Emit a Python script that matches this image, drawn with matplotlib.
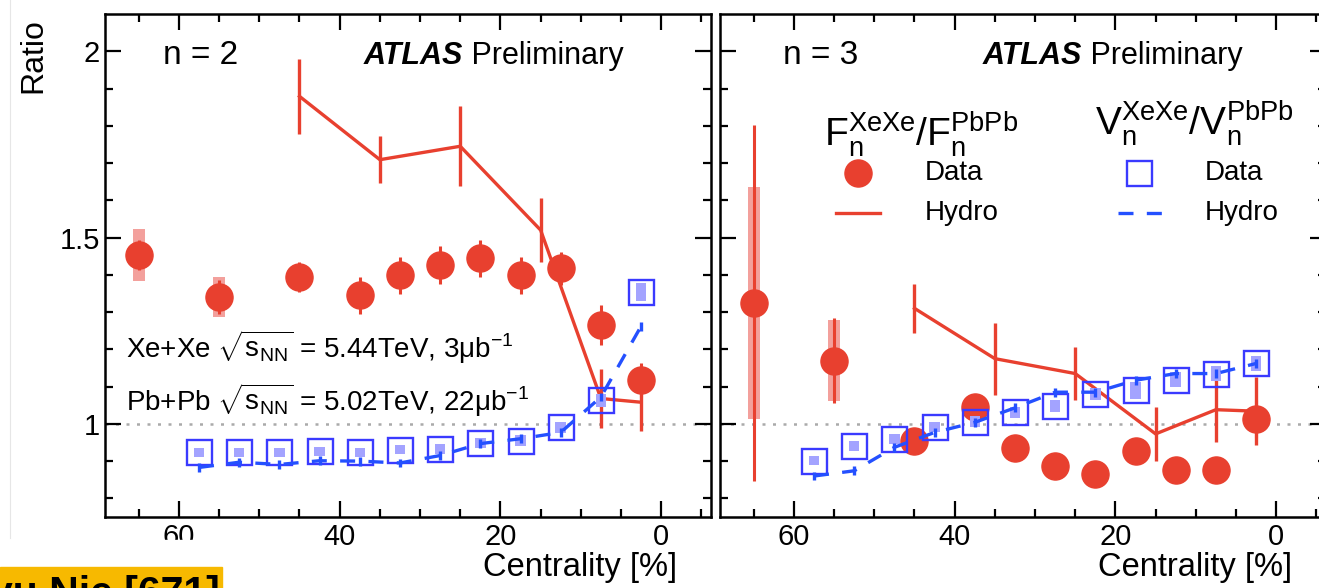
import numpy as np
import matplotlib
matplotlib.use("Agg")
import matplotlib.pyplot as plt
from matplotlib.patches import Rectangle
from matplotlib.lines import Line2D

plt.rcParams["font.family"] = ["Liberation Sans", "DejaVu Sans"]
plt.rcParams["mathtext.fontset"] = "custom"
plt.rcParams["mathtext.rm"] = "Liberation Sans"
plt.rcParams["mathtext.it"] = "Liberation Sans:italic"
plt.rcParams["mathtext.bf"] = "Liberation Sans:bold"

# ---- data ---------------------------------------------------------------
# F_n ratio (data), centrality bin centres
cent_F = [65, 55, 45, 37.5, 32.5, 27.5, 22.5, 17.5, 12.5, 7.5, 2.5]
n2_F = [1.453, 1.341, 1.395, 1.345, 1.399, 1.426, 1.444, 1.399, 1.417, 1.265, 1.117]
n2_F_stat = [0.04, 0.045, 0.04, 0.05, 0.05, 0.05, 0.05, 0.05, 0.045, 0.054, 0.045]
n2_F_sys = [0.07, 0.053, 0.02, 0.02, 0.02, 0.02, 0.02, 0.02, 0.02, 0.02, 0.02]
n3_F = [1.325, 1.170, 0.955, 1.045, 0.934, 0.888, 0.865, 0.928, 0.876, 0.876, 1.013]
n3_F_stat = [0.478, 0.115, 0.035, 0.03, 0.02, 0.02, 0.02, 0.02, 0.02, 0.02, 0.05]
n3_F_sys = [0.312, 0.11, 0.02, 0.02, 0.02, 0.02, 0.02, 0.02, 0.02, 0.02, 0.02]

# F_n ratio (hydro)
cent_hyd = [45, 35, 25, 15, 7.5, 2.5]
n2_F_hyd = [1.879, 1.709, 1.745, 1.520, 1.068, 1.058]
n2_F_hyd_err = [0.10, 0.063, 0.107, 0.085, 0.08, 0.077]
n3_F_hyd = [1.310, 1.175, 1.135, 0.973, 1.038, 1.034]
n3_F_hyd_err = [0.065, 0.097, 0.07, 0.072, 0.088, 0.092]

# v_n ratio (data + hydro)
cent_v = [57.5, 52.5, 47.5, 42.5, 37.5, 32.5, 27.5, 22.5, 17.5, 12.5, 7.5, 2.5]
n2_v = [0.924, 0.924, 0.924, 0.926, 0.924, 0.930, 0.933, 0.949, 0.955, 0.991, 1.063, 1.354]
n2_v_sys = [0.012, 0.012, 0.012, 0.012, 0.012, 0.012, 0.013, 0.013, 0.014, 0.015, 0.018, 0.025]
n2_v_hyd = [0.883, 0.897, 0.891, 0.901, 0.900, 0.895, 0.915, 0.947, 0.960, 0.977, 1.072, 1.262]
n3_v = [0.901, 0.940, 0.960, 0.991, 1.006, 1.031, 1.049, 1.081, 1.090, 1.119, 1.135, 1.162]
n3_v_sys = [0.012, 0.013, 0.013, 0.014, 0.014, 0.014, 0.016, 0.016, 0.022, 0.02, 0.02, 0.02]
n3_v_hyd = [0.860, 0.874, 0.937, 0.977, 1.004, 1.043, 1.085, 1.085, 1.117, 1.135, 1.135, 1.162]
v_hyd_err = 0.012

RED = "#e8402f"
RED_SYS = "#f3a09c"
BLUE = "#3a3aff"
BLUE_SYS = "#a3a3ff"
BLUE_HYD = "#2450ff"
FS_TICK = 21
MS_SQ = 18

fig = plt.figure(figsize=(13.19, 5.88), dpi=100)
W, H = 1319, 588
axL = fig.add_axes([105 / W, 71 / H, 606 / W, 503 / H])
axR = fig.add_axes([720 / W, 71 / H, 606 / W, 503 / H])


def style(ax, ylabels=True):
    ax.set_xlim(69.2, -6.2)
    ax.set_ylim(0.75, 2.1)
    ax.set_xticks([60, 40, 20, 0])
    ax.set_xticks(np.arange(65, -6, -5), minor=True)
    ax.set_yticks([1, 1.5, 2])
    ax.set_yticks(np.arange(0.8, 2.1, 0.1), minor=True)
    ax.set_yticklabels(["1", "1.5", "2"] if ylabels else [])
    ax.tick_params(which="both", direction="in", top=True, right=True, width=1.6)
    ax.tick_params(which="major", length=11.5, labelsize=FS_TICK)
    ax.tick_params(which="minor", length=6)
    ax.tick_params(axis="x", pad=4.5)
    ax.tick_params(axis="y", pad=3.5)
    for s in ax.spines.values():
        s.set_linewidth(1.8)
    ax.axhline(1, color="#aaaaaa", lw=1.8, dashes=(1.2, 3), zorder=1)
    ax.text(0.944, -0.07, "Centrality [%]", transform=ax.transAxes,
            ha="right", va="top", fontsize=23.5)


def draw(ax, F, F_stat, F_sys, F_hyd, F_hyd_err, v, v_sys, v_hyd):
    for x, y, s in zip(cent_F, F, F_sys):
        ax.add_patch(Rectangle((x - 0.75, y - s), 1.5, 2 * s, color=RED_SYS,
                               lw=0, zorder=2))
    ax.errorbar(cent_F, F, yerr=F_stat, fmt="o", color=RED, ms=19.5,
                elinewidth=2.2, capsize=0, zorder=3)
    ax.errorbar(cent_hyd, F_hyd, yerr=F_hyd_err, color=RED, lw=2.4,
                elinewidth=2.4, capsize=0, zorder=4)
    for x, y, s in zip(cent_v, v, v_sys):
        ax.add_patch(Rectangle((x - 0.65, y - s), 1.3, 2 * s, color=BLUE_SYS,
                               lw=0, zorder=5))
    ax.plot(cent_v, v, "s", ms=MS_SQ, mfc="none", mec=BLUE, mew=1.7, zorder=6)
    ax.plot(cent_v, v_hyd, color=BLUE_HYD, lw=2.4, dashes=(4.5, 4), zorder=7)
    ax.errorbar(cent_v, v_hyd, yerr=v_hyd_err, fmt="none", ecolor=BLUE_HYD,
                elinewidth=2.4, capsize=0, zorder=7)


style(axL)
style(axR, ylabels=False)
draw(axL, n2_F, n2_F_stat, n2_F_sys, n2_F_hyd, n2_F_hyd_err, n2_v, n2_v_sys, n2_v_hyd)
draw(axR, n3_F, n3_F_stat, n3_F_sys, n3_F_hyd, n3_F_hyd_err, n3_v, n3_v_sys, n3_v_hyd)

axL.text(-0.118, 0.992, "Ratio", rotation=90, ha="center", va="top",
         transform=axL.transAxes, fontsize=23)

for ax, n, nx in ((axL, "n = 2", 0.096), (axR, "n = 3", 0.104)):
    ax.text(nx, 0.918, n, transform=ax.transAxes, ha="left", va="center", fontsize=24)
    t = ax.text(nx + 0.33, 0.916, "ATLAS", transform=ax.transAxes, ha="left",
                va="center", fontsize=22, fontweight="bold", fontstyle="italic")
    ax.annotate(" Preliminary", xycoords=t, xy=(1, 0.5), ha="left", va="center",
                fontsize=22)

# system labels
axL.text(66.6, 1.205, r"Xe+Xe $\sqrt{\mathrm{s}_{\mathrm{NN}}}$ = 5.44TeV, 3μb$^{-1}$",
         ha="left", va="center", fontsize=20)
axL.text(66.6, 1.063, r"Pb+Pb $\sqrt{\mathrm{s}_{\mathrm{NN}}}$ = 5.02TeV, 22μb$^{-1}$",
         ha="left", va="center", fontsize=20)

# legend (right panel), built by hand
tr = axR.transAxes
axR.text(0.172, 0.738, r"$\mathrm{F_{n}^{XeXe}/F_{n}^{PbPb}}$", transform=tr,
         ha="left", va="baseline", fontsize=28)
axR.text(0.619, 0.759, r"$\mathrm{V_{n}^{XeXe}/V_{n}^{PbPb}}$", transform=tr,
         ha="left", va="baseline", fontsize=28)
axR.plot([0.228], [0.684], "o", color=RED, ms=19.5, transform=tr, clip_on=False)
axR.plot([0.191, 0.264], [0.604, 0.604], color=RED, lw=2.4, transform=tr)
axR.plot([0.691], [0.684], "s", ms=MS_SQ, mfc="none", mec=BLUE, mew=1.7, transform=tr)
axR.plot([0.657, 0.729], [0.604, 0.604], color=BLUE_HYD, lw=2.4, dashes=(4.5, 4),
         transform=tr)
for lx in (0.338, 0.800):
    axR.text(lx, 0.684, "Data", transform=tr, ha="left", va="center", fontsize=20)
    axR.text(lx, 0.604, "Hydro", transform=tr, ha="left", va="center", fontsize=20)

# slide artefacts at the bottom-left corner
fig.add_artist(Line2D([10 / W, 10 / W], [1, 1 - 538 / H], color="#e6e6e6", lw=0.8))
fig.add_artist(Rectangle((0, 0), 225 / W, 48 / H, transform=fig.transFigure,
                         color="white", zorder=10))
fig.add_artist(Rectangle((0, 0), 222 / W, 21 / H, transform=fig.transFigure,
                         color="#f7b900", zorder=11))
fig.text(220 / W, 1 - 575 / H, "yu Nie [671]", ha="right", va="top", fontsize=29.5,
         fontweight="bold", color="black", zorder=12)

fig.savefig("out.png", dpi=100)
